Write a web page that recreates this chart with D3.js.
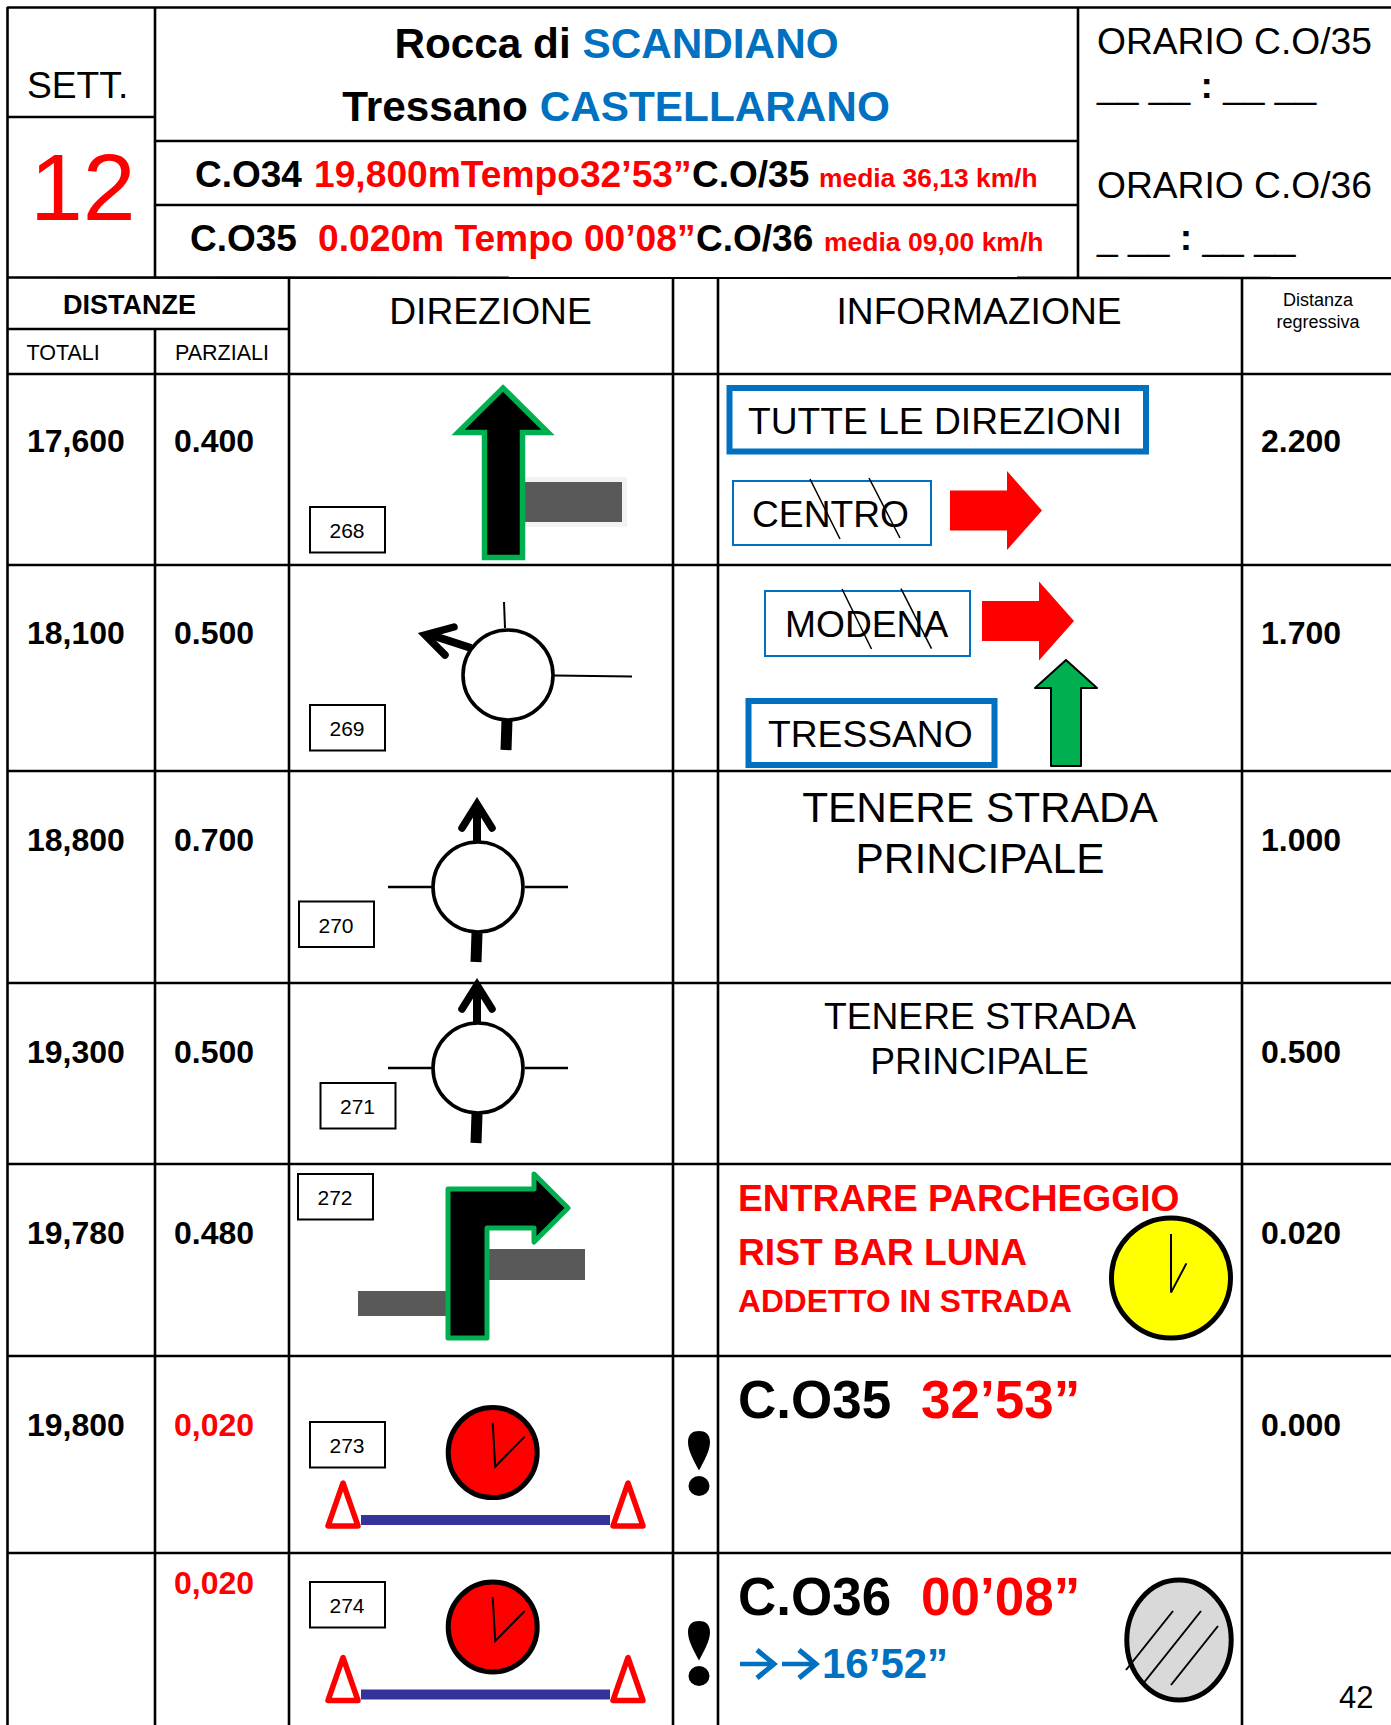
<!DOCTYPE html>
<html>
<head>
<meta charset="utf-8">
<script src="https://cdn.jsdelivr.net/npm/d3@7"></script>
<style>
html, body { margin: 0; padding: 0; background: #fff; }
svg { display: block; }
text { font-family: "Liberation Sans", Arial, sans-serif; }
</style>
</head>
<body>
<script>
//Page size
var W = 1391, H = 1725;

//Table values, one entry for each row
var totali = ["17,600", "18,100", "18,800", "19,300", "19,780", "19,800", ""];
var parziali = ["0.400", "0.500", "0.700", "0.500", "0.480", "0,020", "0,020"];
var regressiva = ["2.200", "1.700", "1.000", "0.500", "0.020", "0.000", ""];
var stepNumbers = ["268", "269", "270", "271", "272", "273", "274"];
var parzialiColors = ["black", "black", "black", "black", "black", "red", "red"];

//Header texts
var headerTitles = ["DIREZIONE", "INFORMAZIONE"];
var subHeaders = ["TOTALI", "PARZIALI"];
var regressivaTitle = ["Distanza", "regressiva"];

//Colours used by the drawing
var BLUE = "#0070c0", GREEN = "#00b050", GREY = "#595959", NAVY = "#333399";
var REG = 37.2; //size of most of the plain text

//Row and column edges. The scales place every row on the page
var rowIndex = d3.range(totali.length);
var rowY = d3.scaleOrdinal().domain(rowIndex).range([374, 565, 771, 983, 1164, 1356, 1553]);
var valueY = d3.scaleOrdinal().domain(rowIndex).range([452, 644, 851, 1063, 1244, 1436, 1594]);
var colX = d3.scaleOrdinal()
	.domain(["totali", "parziali", "direzione", "mark", "info", "regressiva"])
	.range([8, 155, 289, 673, 718, 1242]);

var svg = d3.select("body")
	.append("svg")
	.attr("width", W)
	.attr("height", H);

svg.append("rect")
	.attr("width", W)
	.attr("height", H)
	.style("fill", "white");

//Small helpers for the road book drawings
function seg(x1, y1, x2, y2, w, color, cap) {
	return svg.append("line")
		.attr("x1", x1).attr("y1", y1)
		.attr("x2", x2).attr("y2", y2)
		.style("stroke", color || "black")
		.style("stroke-width", w)
		.style("stroke-linecap", cap || "butt");
}

function box(x0, y0, x1, y1, stroke, w, fill) {
	return svg.append("rect")
		.attr("x", x0).attr("y", y0)
		.attr("width", x1 - x0).attr("height", y1 - y0)
		.style("fill", fill || "white")
		.style("stroke", stroke || "none")
		.style("stroke-width", w || 0);
}

function poly(pts, fill, stroke, w, join) {
	return svg.append("path")
		.attr("d", d3.line()(pts) + "Z")
		.style("fill", fill)
		.style("stroke", stroke || "none")
		.style("stroke-width", w || 0)
		.style("stroke-linejoin", join || "round");
}

function oval(cx, cy, rx, ry, fill, w) {
	return svg.append("ellipse")
		.attr("cx", cx).attr("cy", cy)
		.attr("rx", rx).attr("ry", ry)
		.style("fill", fill)
		.style("stroke", "black")
		.style("stroke-width", w);
}

function label(x, y, str, size, color, bold, anchor) {
	return svg.append("text")
		.attr("x", x).attr("y", y)
		.attr("font-size", size + "px")
		.attr("font-weight", bold ? "bold" : "normal")
		.attr("text-anchor", anchor || "start")
		.style("fill", color || "black")
		.text(str);
}

//Grid of the table
var gridLines = [
	[7, 7.5, W, 7.5], [8, 117, 155, 117], [155, 141, 1078, 141], [155, 205, 1078, 205],
	[7, 277.5, W, 278], [8, 329, 289, 329], [7, 374, W, 374],
	[7.5, 7, 7.5, H], [155, 7, 155, 277], [155, 329, 155, H], [1078, 7, 1078, 277],
	[289, 277, 289, H], [673, 277, 673, H], [718, 277, 718, H], [1242, 277, 1242, H]
];
svg.selectAll("line.grid")
	.data(gridLines.concat(rowIndex.slice(1).map(function(i){return [8, rowY(i), W, rowY(i)]})))
	.enter().append("line")
	.attr("class", "grid")
	.attr("x1", function(d){return d[0]})
	.attr("y1", function(d){return d[1]})
	.attr("x2", function(d){return d[2]})
	.attr("y2", function(d){return d[3]})
	.style("stroke", "black")
	.style("stroke-width", 2.6);

//Top block
label(27, 98, "SETT.", REG);
label(30, 220, "12", 95, "red");

var t1 = label(616.5, 58, "Rocca di ", 42.3, "black", true, "middle");
t1.append("tspan").style("fill", BLUE).text("SCANDIANO");
var t2 = label(616, 121, "Tressano ", 42.3, "black", true, "middle");
t2.append("tspan").style("fill", BLUE).text("CASTELLARANO");

label(195, 187, "C.O34", 37, "black", true);
label(314, 187, "19,800mTempo32’53”", 37.2, "red", true);
label(692, 187, "C.O/35", 37, "black", true);
label(819, 187, "media 36,13 km/h", 26.4, "red", true);

label(190, 251, "C.O35", 37, "black", true);
label(318, 251, "0.020m Tempo 00’08”", 37.2, "red", true);
label(696, 251, "C.O/36", 37, "black", true);
label(824, 251, "media 09,00 km/h", 26.5, "red", true);

label(1097, 54, "ORARIO C.O/35", REG);
var o1 = label(1097, 98, "__ __ ", REG);
o1.append("tspan").attr("font-weight", "bold").text(":");
o1.append("tspan").text(" __ __");
label(1097, 198, "ORARIO C.O/36", REG);
var o2 = label(1097, 250, "_ __ ", REG);
o2.append("tspan").attr("font-weight", "bold").text(":");
o2.append("tspan").text(" __ __");

//Column headers
label(63, 314, "DISTANZE", 27, "black", true);
label(colX("totali") + 18.5, 360, subHeaders[0], 21.5);
label(colX("parziali") + 20, 360, subHeaders[1], 21.5);
label(490.5, 324, headerTitles[0], REG, "black", false, "middle");
label(979, 324, headerTitles[1], REG, "black", false, "middle");
svg.selectAll("text.regr")
	.data(regressivaTitle)
	.enter().append("text")
	.attr("class", "regr")
	.attr("x", 1318)
	.attr("y", function(d, i){return 306 + i * 22})
	.attr("font-size", "18px")
	.attr("text-anchor", "middle")
	.text(function(d){return d});

//Values of each row
svg.selectAll("text.totale")
	.data(totali)
	.enter().append("text")
	.attr("class", "totale")
	.attr("x", colX("totali") + 19)
	.attr("y", function(d, i){return valueY(i)})
	.attr("font-size", "32px")
	.attr("font-weight", "bold")
	.text(function(d){return d});

svg.selectAll("text.parziale")
	.data(parziali)
	.enter().append("text")
	.attr("class", "parziale")
	.attr("x", colX("parziali") + 19)
	.attr("y", function(d, i){return valueY(i)})
	.attr("font-size", "32px")
	.attr("font-weight", "bold")
	.style("fill", function(d, i){return parzialiColors[i]})
	.text(function(d){return d});

svg.selectAll("text.regressiva")
	.data(regressiva)
	.enter().append("text")
	.attr("class", "regressiva")
	.attr("x", colX("regressiva") + 19)
	.attr("y", function(d, i){return valueY(i)})
	.attr("font-size", "32px")
	.attr("font-weight", "bold")
	.text(function(d){return d});

//Little numbered boxes, placed from the top of their row
var stepBoxX = [310, 310, 299, 320.5, 298, 310, 310];
var stepBoxDy = [133, 140, 130.5, 100, 10, 66, 29];
rowIndex.forEach(function(i) {
	var y = rowY(i) + stepBoxDy[i];
	box(stepBoxX[i], y, stepBoxX[i] + 75, y + 45.5, "black", 2);
	label(stepBoxX[i] + 37, y + 31, stepNumbers[i], 21, "black", false, "middle");
});

//Roundabout with thin side roads, entry at the bottom and exit arrow on top
function roundabout(cx, cy) {
	seg(cx - 90, cy, cx - 46, cy, 2.5);
	seg(cx + 47, cy, cx + 90, cy, 2.5);
	seg(cx - 1, cy + 46, cx - 2, cy + 75, 11);
	seg(cx - 1, cy - 46, cx - 1, cy - 80, 8);
	svg.append("path")
		.attr("d", d3.line()([[cx - 16, cy - 59], [cx - 1, cy - 83], [cx + 14, cy - 59]]))
		.style("fill", "none")
		.style("stroke", "black")
		.style("stroke-width", 7.5)
		.style("stroke-linecap", "round")
		.style("stroke-linejoin", "miter");
	oval(cx, cy, 45, 45, "white", 3.6);
}
roundabout(478, 887);
roundabout(478, 1068);

//Row 269: same roundabout but leaving to the top left
seg(504, 602, 505, 628, 2);
seg(554, 675.5, 632, 676.5, 2);
seg(507, 720, 506, 750, 11);
seg(471, 648, 428, 634, 8);
svg.append("path")
	.attr("d", d3.line()([[454, 627], [425, 635], [445, 655]]))
	.style("fill", "none")
	.style("stroke", "black")
	.style("stroke-width", 7.5)
	.style("stroke-linecap", "round");
oval(508, 675, 45, 45, "white", 3.6);

//Row 268: green edged arrow over the grey side road
box(525, 477, 627, 527, null, 0, "#f2f2f2");
box(525, 482, 622, 522, null, 0, GREY);
poly([[503, 388], [548, 432.5], [522.5, 432.5], [522.5, 557.5], [484.5, 557.5], [484.5, 432.5], [458, 432.5]], "black", GREEN, 5.5, "miter");

//Row 272: turn right
box(489, 1249, 585, 1280, null, 0, GREY);
box(358, 1291, 446, 1316, null, 0, GREY);
poly([[448, 1338], [448, 1189], [534, 1189], [534, 1174], [568, 1208], [534, 1242], [534, 1228], [487, 1228], [487, 1338]], "black", GREEN, 5);

//Clock faces
function clock(cx, cy, rx, ry, fill, hand1, hand2) {
	oval(cx, cy, rx, ry, fill, 5);
	svg.append("path")
		.attr("d", d3.line()([[cx + hand1[0], cy + hand1[1]], [cx + hand1[2], cy + hand1[3]], [cx + hand2[0], cy + hand2[1]]]))
		.style("fill", "none")
		.style("stroke", "black")
		.style("stroke-width", 2);
}
clock(492.7, 1452.6, 44.5, 45, "red", [0, -30, 2.5, 14], [32, -16]);
clock(492.7, 1627, 44.5, 45, "red", [0, -30, 2.5, 14], [32, -16]);
clock(1171, 1278, 59.5, 60, "yellow", [0, -44, 0, 14.6], [15.4, -14.6]);

oval(1179, 1640, 52.2, 60, "#d9d9d9", 5);
seg(1126, 1670, 1173, 1611, 2);
seg(1144, 1682.5, 1201, 1611, 2);
seg(1171, 1685, 1218, 1626, 2);

//Start and end of a timed stretch: two red triangles and a blue bar
function timedStretch(y) {
	box(361, y + 34, 610, y + 44, null, 0, NAVY);
	poly([[343, y + 2], [328, y + 45], [358, y + 45]], "white", "red", 5.5);
	poly([[628, y + 2], [613, y + 45], [643, y + 45]], "white", "red", 5.5);
}
timedStretch(1481);
timedStretch(1655.5);

//Exclamation marks
function mark(cx, y) {
	svg.append("path")
		.attr("d", "M" + cx + "," + (y + 39.6)
			+ "C" + (cx - 5) + "," + (y + 30) + " " + (cx - 11) + "," + (y + 20) + " " + (cx - 11) + "," + (y + 11)
			+ "C" + (cx - 11) + "," + (y + 3) + " " + (cx - 6) + "," + y + " " + cx + "," + y
			+ "C" + (cx + 6) + "," + y + " " + (cx + 11) + "," + (y + 3) + " " + (cx + 11) + "," + (y + 11)
			+ "C" + (cx + 11) + "," + (y + 20) + " " + (cx + 5) + "," + (y + 30) + " " + cx + "," + (y + 39.6) + "Z")
		.style("fill", "black");
	svg.append("ellipse")
		.attr("cx", cx).attr("cy", y + 55)
		.attr("rx", 10.5).attr("ry", 10)
		.style("fill", "black");
}
mark(699, 1431);
mark(699, 1621);

//Information column
box(729.5, 388, 1146, 451.5, BLUE, 6);
label(748, 434, "TUTTE LE DIREZIONI", REG);

box(733, 481, 931, 545, BLUE, 2);
label(752, 527, "CENTRO", REG);
seg(810, 479, 840, 539, 1.5);
seg(869, 478, 900, 538, 1.5);

function redArrow(x, y) {
	poly([[x, y - 20], [x + 57, y - 20], [x + 57, y - 39.5], [x + 92, y], [x + 57, y + 39.5], [x + 57, y + 20], [x, y + 20]], "red");
}
redArrow(950, 510.5);
redArrow(982, 621);

box(765, 591, 970, 656, BLUE, 2);
label(785, 637, "MODENA", REG);
seg(842, 589, 871.5, 649, 1.5);
seg(901, 588.7, 931.5, 648.7, 1.5);

box(748.5, 701, 994.5, 765, BLUE, 6);
label(768, 747, "TRESSANO", REG);

poly([[1066, 660], [1097, 688], [1081, 688], [1081, 766], [1051, 766], [1051, 688], [1035, 688]], GREEN, "black", 2);

label(980, 822, "TENERE STRADA", 42.4, "black", false, "middle");
label(980, 873, "PRINCIPALE", 42.4, "black", false, "middle");
label(980, 1029, "TENERE STRADA", REG, "black", false, "middle");
label(979.5, 1074, "PRINCIPALE", REG, "black", false, "middle");

label(738, 1211, "ENTRARE PARCHEGGIO", 37.2, "red", true);
label(738, 1265, "RIST BAR LUNA", 37.2, "red", true);
label(738, 1312, "ADDETTO IN STRADA", 31.7, "red", true);

label(738, 1418, "C.O35", 53, "black", true);
label(921, 1418, "32’53”", 53, "red", true);
label(738, 1615, "C.O36", 53, "black", true);
label(921, 1615, "00’08”", 53, "red", true);

//Blue double arrow in front of the remaining time
[740, 782].forEach(function(x) {
	seg(x, 1664, x + 33, 1664, 4.5, BLUE);
	svg.append("path")
		.attr("d", d3.line()([[x + 17, 1650], [x + 34, 1664], [x + 17, 1678]]))
		.style("fill", "none")
		.style("stroke", BLUE)
		.style("stroke-width", 5);
});
label(822, 1678, "16’52”", 42, BLUE, true);

label(1339, 1708, "42", 31);
</script>
</body>
</html>
